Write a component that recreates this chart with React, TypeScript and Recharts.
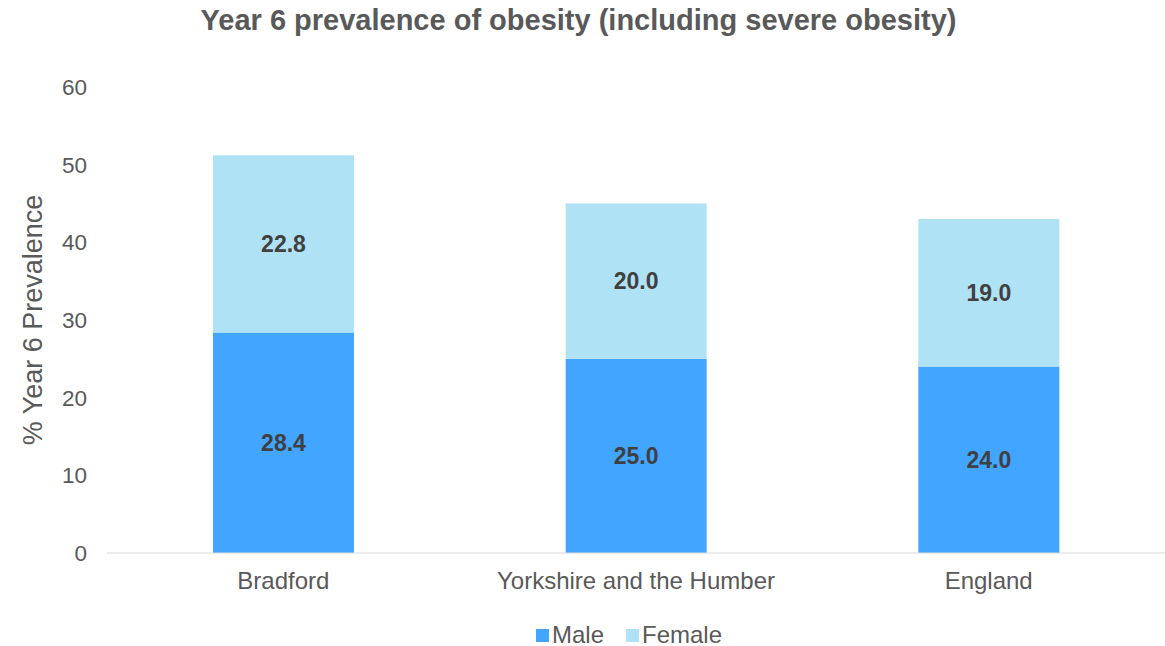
import { BarChart, Bar, XAxis, YAxis, Legend, LabelList } from "recharts";

const regions = ["Bradford", "Yorkshire and the Humber", "England"];
const maleValues = [28.4, 25.0, 24.0];
const femaleValues = [22.8, 20.0, 19.0];
const yTicks = [0, 10, 20, 30, 40, 50, 60];

const data = regions.map((name, i) => ({
    name,
    male: maleValues[i],
    female: femaleValues[i],
}));

const FONT = "'Liberation Sans', Arial, sans-serif";

const renderLegend = () => (
    <div
        style={{
            display: "flex",
            justifyContent: "center",
            alignItems: "center",
            height: 40,
            paddingTop: 18,
            paddingRight: 14,
            boxSizing: "border-box",
            fontFamily: FONT,
            fontSize: 24,
            color: "#595959",
        }}
    >
        <span style={{ display: "inline-block", width: 13, height: 13, background: "#42a5ff", marginRight: 3 }} />
        <span style={{ marginRight: 22 }}>Male</span>
        <span style={{ display: "inline-block", width: 13, height: 13, background: "#b0e2f5", marginRight: 3 }} />
        <span>Female</span>
    </div>
);

export default function App() {
    return (
        <div style={{ position: "absolute", left: 0, top: 0, width: 1165, height: 646, fontFamily: FONT }}>
            <div
                style={{
                    position: "absolute",
                    top: 4,
                    left: 0,
                    width: 1165,
                    textAlign: "center",
                    fontSize: 29,
                    fontWeight: "bold",
                    color: "#595959",
                    paddingRight: 8,
                    boxSizing: "border-box",
                }}
            >
                Year 6 prevalence of obesity (including severe obesity)
            </div>
            <BarChart
                width={1165}
                height={646}
                data={data}
                margin={{ top: 87, right: 0, left: 0, bottom: 0 }}
            >
                <XAxis
                    dataKey="name"
                    height={53}
                    tickLine={false}
                    axisLine={{ stroke: "#d9d9d9" }}
                    tick={{ fill: "#595959", fontSize: 24, fontFamily: FONT, dy: 11 }}
                />
                <YAxis
                    width={107}
                    domain={[0, 60]}
                    ticks={yTicks}
                    interval={0}
                    tickLine={false}
                    axisLine={false}
                    tick={{ fill: "#595959", fontSize: 22.5, fontFamily: FONT, dx: -12 }}
                    label={{
                        value: "% Year 6 Prevalence",
                        angle: -90,
                        position: "insideLeft",
                        dx: 27,
                        style: { textAnchor: "middle", fill: "#595959", fontSize: 27, fontFamily: FONT },
                    }}
                />
                <Legend
                    verticalAlign="bottom"
                    height={40}
                    wrapperStyle={{ left: 107, width: 1058 }}
                    content={renderLegend}
                />
                <Bar dataKey="male" stackId="a" fill="#42a5ff" barSize={141} isAnimationActive={false}>
                    <LabelList
                        dataKey="male"
                        position="center"
                        formatter={(v: any) => Number(v).toFixed(1)}
                        style={{ fill: "#404040", fontSize: 23, fontWeight: "bold", fontFamily: FONT }}
                    />
                </Bar>
                <Bar dataKey="female" stackId="a" fill="#b0e2f5" barSize={141} isAnimationActive={false}>
                    <LabelList
                        dataKey="female"
                        position="center"
                        formatter={(v: any) => Number(v).toFixed(1)}
                        style={{ fill: "#404040", fontSize: 23, fontWeight: "bold", fontFamily: FONT }}
                    />
                </Bar>
            </BarChart>
        </div>
    );
}
